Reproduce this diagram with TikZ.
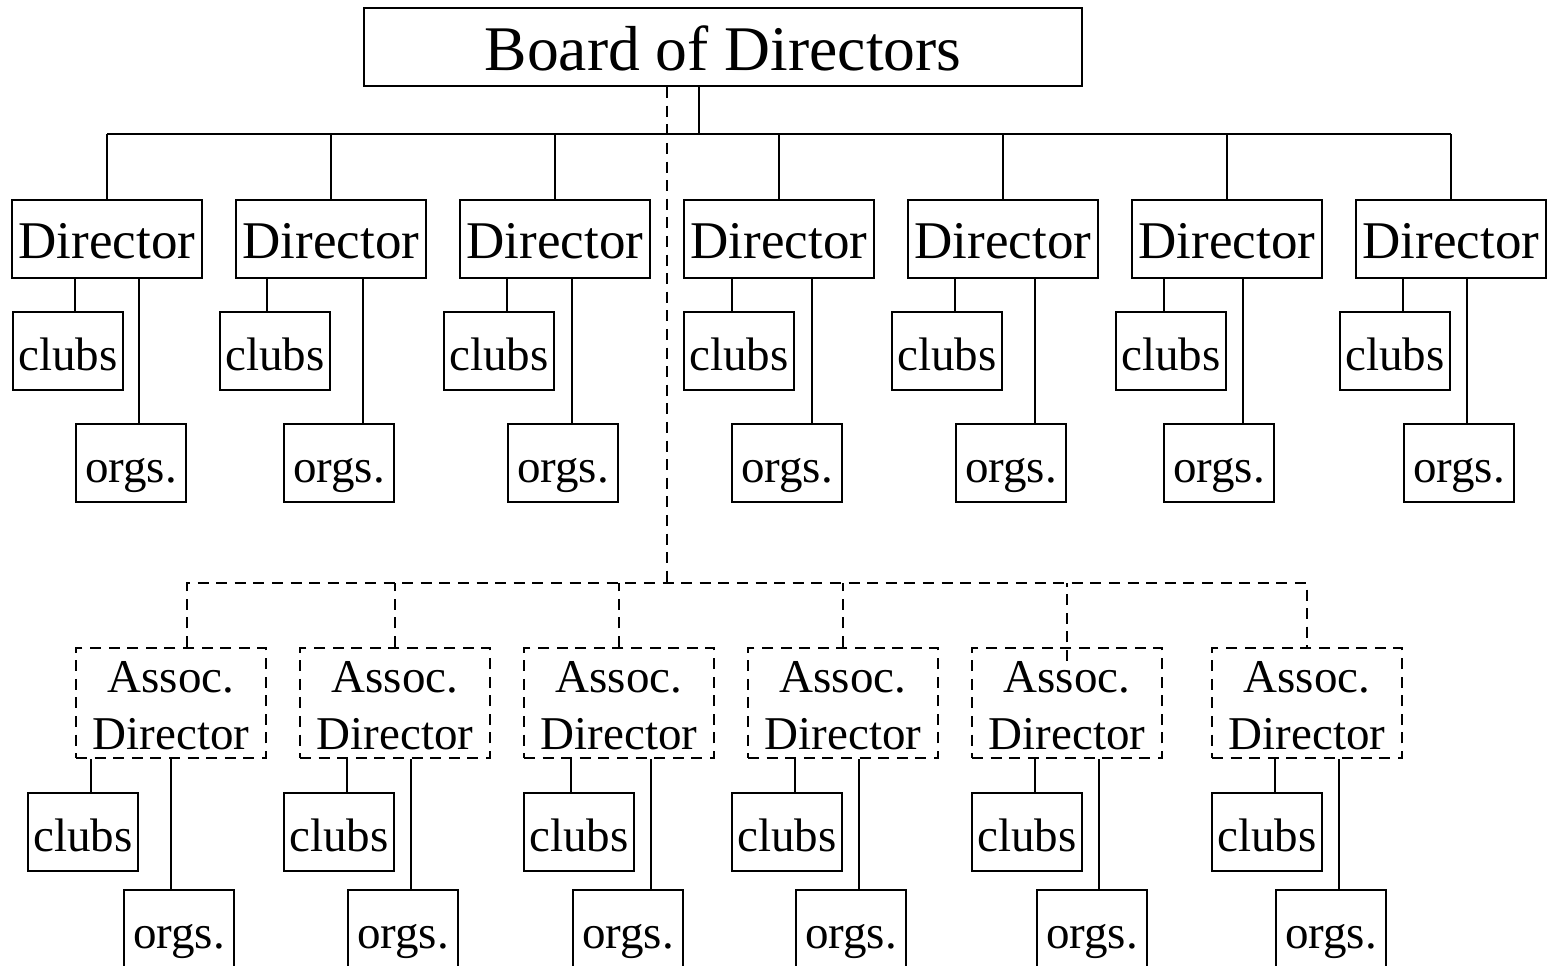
\documentclass[tikz,border=0pt]{standalone}
\usepackage{fontspec}
\setmainfont{Liberation Serif}
\begin{document}
\begin{tikzpicture}[x=0.5pt,y=-0.5pt,
  box/.style={draw, line width=1.1pt, inner sep=0pt, minimum height=39pt, text height=29pt, text depth=10pt},
  boardbox/.style={box, minimum width=359pt, text height=31pt, text depth=8pt, font=\fontsize{31.8pt}{38pt}\selectfont},
  dirbox/.style={box, minimum width=95pt, font=\fontsize{26.5pt}{32pt}\selectfont},
  smallbox/.style={box, minimum width=55pt, font=\fontsize{23.5pt}{28.5pt}\selectfont},
  assocbox/.style={box, dash pattern=on 5.5pt off 3.8pt, minimum width=95pt, minimum height=55pt, text height=50.5pt, text depth=4.5pt, font=\fontsize{23.5pt}{28.5pt}\selectfont},
  link/.style={line width=1.1pt},
  dlink/.style={line width=1.1pt, dash pattern=on 5.5pt off 3.8pt}]
\useasboundingbox (0,0) rectangle (1553,965);

% Board
\node[boardbox] (b) at (723,47) {Board of Directors};
\coordinate (bus) at (699,134);
\coordinate (dbus) at (667,583);
\draw[link] (b.south -| bus) -- (bus);

% Directors
\foreach \i/\x/\cl/\ol/\cx/\ox in {1/107/68/131/75/139, 2/331/275/339/267/363, 3/555/499/563/507/572, 4/779/739/787/732/812, 5/1003/947/1011/955/1035, 6/1227/1171/1219/1164/1243, 7/1451/1395/1459/1403/1467}{
  \node[dirbox] (d\i) at (\x,239) {Director};
  \node[smallbox] (c\i) at (\cl,351) {clubs};
  \node[smallbox] (o\i) at (\ol,463) {orgs.};
  \draw[link] (d\i.north) -- (d\i.north |- bus);
  \draw[link] (d\i.south -| \cx,0) -- (c\i.north -| \cx,0);
  \draw[link] (d\i.south -| \ox,0) -- (o\i.north -| \ox,0);
}
\draw[link] (d1.north |- bus) -- (d7.north |- bus);

% Associate directors
\foreach \i/\x/\cl/\ol/\cx/\ox in {1/171/83/179/91/171, 2/395/339/403/347/411, 3/619/579/628/571/651, 4/843/787/851/795/859, 5/1067/1027/1092/1035/1099, 6/1307/1267/1331/1275/1339}{
  \node[assocbox] (a\i) at (\x,703) {\begin{tabular}[b]{@{}c@{}}Assoc.\\Director\end{tabular}};
  \node[smallbox] (ac\i) at (\cl,832) {clubs};
  \node[smallbox] (ao\i) at (\ol,929) {orgs.};
  \draw[link] (a\i.south -| \cx,0) -- (ac\i.north -| \cx,0);
  \draw[link] (a\i.south -| \ox,0) -- (ao\i.north -| \ox,0);
}

% Dashed links
\draw[dlink] (b.south -| dbus) -- (dbus);
\draw[dlink] (a1.north -| 187,0) |- (dbus) -| (a6.north);
\draw[dlink] (a2.north) -- (a2.north |- dbus);
\draw[dlink] (a3.north) -- (a3.north |- dbus);
\draw[dlink] (a4.north) -- (a4.north |- dbus);
\draw[dlink] ([yshift=-7pt]a5.north) -- (a5.north |- dbus);
\end{tikzpicture}
\end{document}
